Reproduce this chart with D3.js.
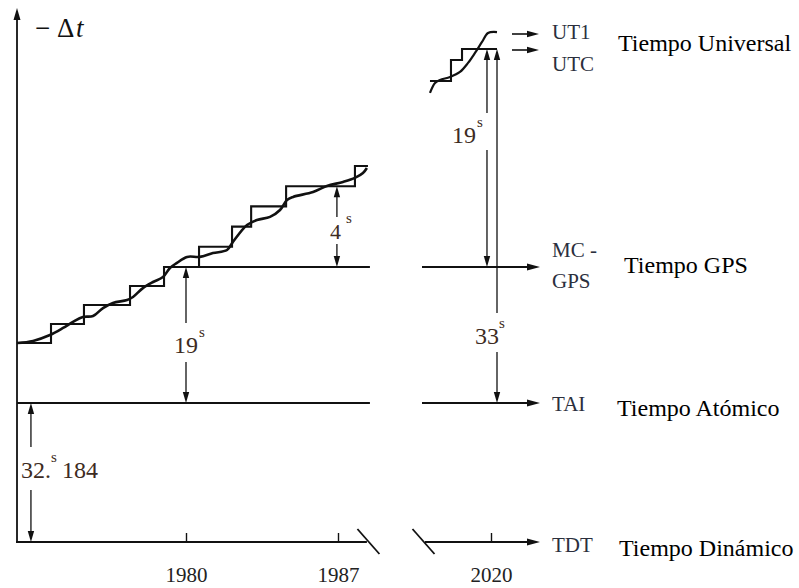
<!DOCTYPE html>
<html><head><meta charset="utf-8">
<script src="https://cdn.jsdelivr.net/npm/d3@7"></script>
<style>
html,body{margin:0;padding:0;background:#fff;}
svg{display:block;}
</style></head><body>
<svg id="chart" width="799" height="588" font-family="'Liberation Serif', 'Times New Roman', serif"></svg>
<script>
// ---------------- data ----------------
const tickYearsLeft = [1980, 1987];
const tickYearsRight = [2020];
const levelTDT = -32.184;
const levelTAI = 0;
const levelGPS = 19;

// UTC staircase (TAI - UTC, s), 1972-1988 panel
const utcLeftYears  = [1972.00, 1973.61, 1975.17, 1977.35, 1978.96, 1980.60, 1982.12, 1983.00, 1984.61, 1987.78, 1988.38];
const utcLeftLevels = [15, 16, 17, 18, 19, 20, 21, 22, 23, 24, 24];
// UT1 smooth curve, 1972-1988 panel
const ut1LeftYears  = [1972.00, 1972.76, 1973.56, 1974.18, 1974.65, 1975.12, 1975.60, 1976.07, 1976.54, 1977.21, 1977.49, 1977.96, 1978.44, 1978.91, 1979.24, 1979.57, 1980.05, 1980.64, 1981.24, 1981.89, 1982.16, 1982.81, 1983.27, 1983.87, 1984.33, 1984.65, 1984.93, 1985.85, 1986.49, 1987.23, 1987.78, 1988.15, 1988.33];
const ut1LeftValues = [15.00, 15.11, 15.42, 15.79, 16.11, 16.37, 16.42, 16.84, 17.11, 17.26, 17.42, 17.89, 18.21, 18.47, 18.95, 19.20, 19.50, 19.50, 19.69, 19.84, 20.24, 21.08, 21.33, 21.48, 21.82, 22.32, 22.47, 22.71, 23.01, 23.21, 23.41, 23.65, 23.90];

// UTC staircase, 2010-2021 panel
const utcRightYears  = [2009.83, 2013.33, 2015.17, 2021.00];
const utcRightLevels = [35, 36, 37, 37];
// UT1 curve, 2010-2021 panel
const ut1RightYears  = [2009.83, 2010.67, 2011.50, 2013.17, 2014.83, 2016.17, 2017.33, 2018.50, 2019.50, 2021.00];
const ut1RightValues = [33.97, 34.83, 35.05, 35.19, 35.43, 35.86, 36.64, 37.44, 38.00, 38.06];

const scaleLabels = ["TDT", "TAI", "MC -", "GPS", "UTC", "UT1"];
const systemNames = ["Tiempo Universal", "Tiempo GPS", "Tiempo Atómico", "Tiempo Dinámico"];
const offsetTexts = ["19", "4", "32.", "184", "19", "33"];

// panel extents (years)
const leftStart = 1972, leftEnd = 1988.47, leftTdtEnd = 1988.33;
const rightStart = 2008.5, rightTdtStart = 2009.0, rightEnd = 2028.17;
const arrowStartYear = 2023.5;

// ---------------- scales ----------------
const xL = d3.scaleLinear().domain([1972, 1980, 1987]).range([17, 186, 338]);
const xR = d3.scaleLinear().domain([2020, 2021]).range([491, 497]);
const yL = d3.scaleLinear().domain([-32.184, 0, 15, 19, 24]).range([542, 403, 343, 267, 166]);
const yR = d3.scaleLinear().domain([-32.184, 0, 19, 35, 36, 37, 38]).range([542, 403, 267, 81, 60, 49, 33]);

const FONT = "'Liberation Serif', 'Times New Roman', serif";
const svg = d3.select("#chart");
const ink = "#111";
const labelCol = "#2b2f3d";
const offCol = "#3d2b22";

function txt(x, y, size, fill, s) {
  return svg.append("text").attr("x", x).attr("y", y)
    .attr("font-family", FONT)
    .attr("font-size", size).attr("fill", fill).text(s);
}
function hline(x1, x2, y, w) {
  svg.append("line").attr("x1", x1).attr("x2", x2).attr("y1", y).attr("y2", y)
    .attr("stroke", ink).attr("stroke-width", w || 1.6);
}
function vline(x, y1, y2, w) {
  svg.append("line").attr("x1", x).attr("x2", x).attr("y1", y1).attr("y2", y2)
    .attr("stroke", ink).attr("stroke-width", w || 1.4);
}
function head(x, y, dir, len, hw) {
  len = len || 11; hw = hw || 3.3;
  let pts;
  if (dir === "up") pts = [[x, y], [x - hw, y + len], [x + hw, y + len]];
  else if (dir === "down") pts = [[x, y], [x - hw, y - len], [x + hw, y - len]];
  else pts = [[x, y], [x - len, y - hw], [x - len, y + hw]];
  svg.append("polygon").attr("points", pts.map(p => p.join(",")).join(" ")).attr("fill", ink);
}

// ---------------- axes / level lines ----------------
vline(xL(leftStart), yL(levelTDT), 14, 1.8);
head(xL(leftStart), 8, "up", 12, 3.5);

hline(xL(leftStart) - 1, xL(leftTdtEnd), yL(levelTDT), 1.8);
hline(xR(rightTdtStart), xR(rightEnd) - 8, yR(levelTDT), 1.8);
head(xR(rightEnd), yR(levelTDT), "right", 13, 3.6);

const by = yL(levelTDT);
[xL(leftEnd) - 1.5, xR(rightTdtStart) - 1.5].forEach(cx => {
  svg.append("line").attr("x1", cx - 11).attr("y1", by - 13).attr("x2", cx + 11).attr("y2", by + 12)
    .attr("stroke", ink).attr("stroke-width", 1.8);
});

function yearAxis(scale, vals) {
  const g = svg.append("g").attr("transform", `translate(0,${yL(levelTDT)})`)
    .call(d3.axisBottom(scale).tickValues(vals).tickFormat(d3.format("d"))
      .tickSizeInner(-9).tickSizeOuter(0).tickPadding(25));
  g.attr("font-family", FONT);
  g.select(".domain").remove();
  g.selectAll(".tick line").attr("stroke", ink).attr("stroke-width", 1.4);
  g.selectAll(".tick text").attr("fill", "#222").attr("font-size", 21).attr("font-family", FONT);
}
yearAxis(xL, tickYearsLeft);
yearAxis(xR, tickYearsRight);

hline(xL(leftStart), xL(leftEnd), yL(levelTAI), 1.8);
hline(xR(rightStart), xR(rightEnd) - 8, yR(levelTAI), 1.8);
head(xR(rightEnd), yR(levelTAI), "right", 13, 3.6);

hline(xL(utcLeftYears[4]), xL(leftEnd), yL(levelGPS), 1.8);
hline(xR(rightStart), xR(rightEnd) - 8, yR(levelGPS), 1.8);
head(xR(rightEnd), yR(levelGPS), "right", 13, 3.6);

const utcLevel = utcRightLevels[utcRightLevels.length - 1];
const ut1Level = 38;
[utcLevel, ut1Level].forEach(v => {
  hline(xR(arrowStartYear), xR(rightEnd) - 8, yR(v) + 1, 1.6);
  head(xR(rightEnd) - 1, yR(v) + 1, "right", 12, 3.3);
});

// ---------------- staircases and curves ----------------
const stepL = d3.line().x(d => xL(d[0])).y(d => yL(d[1])).curve(d3.curveStepAfter);
const smoothL = d3.line().x(d => xL(d[0])).y(d => yL(d[1])).curve(d3.curveCatmullRom.alpha(0.5));
const stepR = d3.line().x(d => xR(d[0])).y(d => yR(d[1])).curve(d3.curveStepAfter);
const smoothR = d3.line().x(d => xR(d[0])).y(d => yR(d[1])).curve(d3.curveCatmullRom.alpha(0.5));

svg.append("path").datum(d3.zip(utcLeftYears, utcLeftLevels)).attr("d", stepL)
  .attr("fill", "none").attr("stroke", ink).attr("stroke-width", 2.1);
svg.append("path").datum(d3.zip(ut1LeftYears, ut1LeftValues)).attr("d", smoothL)
  .attr("fill", "none").attr("stroke", ink).attr("stroke-width", 2.6);
svg.append("path").datum(d3.zip(utcRightYears, utcRightLevels)).attr("d", stepR)
  .attr("fill", "none").attr("stroke", ink).attr("stroke-width", 2.1);
svg.append("path").datum(d3.zip(ut1RightYears, ut1RightValues)).attr("d", smoothR)
  .attr("fill", "none").attr("stroke", ink).attr("stroke-width", 2.2);

// ---------------- offset arrows with labels ----------------
function dimArrow(x, yTop, yBot, gapTop, gapBot) {
  vline(x, yTop + 4, gapTop, 1.3);
  head(x, yTop, "up", 11, 3.2);
  vline(x, gapBot, yBot - 4, 1.3);
  head(x, yBot, "down", 11, 3.2);
}
function offLabel(xNum, yBase, num, xSup, size) {
  txt(xNum, yBase, size || 24, offCol, num);
  txt(xSup, yBase - 16, 15, offCol, "s");
}

dimArrow(xL(1980), yL(levelGPS), yL(levelTAI), 323, 362);
offLabel(174, 353, offsetTexts[0], 199);
dimArrow(xL(1986.95), yL(23), yL(levelGPS), 217, 244);
offLabel(330, 239, offsetTexts[1], 346, 22);
dimArrow(xL(1972.66), yL(levelTAI), yL(levelTDT), 447, 490);
txt(21, 478, 24, offCol, offsetTexts[2]);
txt(51, 462, 15, offCol, "s");
txt(62, 478, 24, offCol, offsetTexts[3]);
dimArrow(xR(2019.33), yR(utcLevel), yR(levelGPS), 113, 150);
offLabel(452, 143, offsetTexts[4], 477);
dimArrow(xR(2021.0), yR(utcLevel), yR(levelTAI), 313, 352);
offLabel(475, 344, offsetTexts[5], 499);

// ---------------- text labels ----------------
const ty = svg.append("text").attr("y", 37).attr("font-size", 27).attr("fill", "#111")
  .attr("font-family", FONT);
ty.append("tspan").attr("x", 35).text("\u2212");
ty.append("tspan").attr("x", 57).text("\u0394");
ty.append("tspan").attr("x", 76).attr("font-style", "italic").text("t");

const lblX = 552;
const lbl = (t, y) => txt(lblX, y, 21, labelCol, t);
lbl(scaleLabels[5], 39);
lbl(scaleLabels[4], 71);
lbl(scaleLabels[2], 257);
lbl(scaleLabels[3], 288);
lbl(scaleLabels[1], 411);
lbl(scaleLabels[0], 552);

const sys = (t, x, y) => txt(x, y, 24, "#000", t);
sys(systemNames[0], 618, 51);
sys(systemNames[1], 624, 273);
sys(systemNames[2], 617, 416);
sys(systemNames[3], 619, 556);
</script>
</body></html>
